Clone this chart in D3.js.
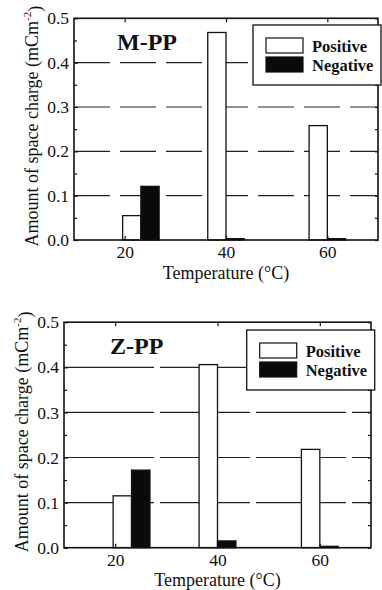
<!DOCTYPE html>
<html>
<head>
<meta charset="utf-8">
<script src="https://cdn.jsdelivr.net/npm/d3@7"></script>
<style>
    body { margin: 0; background: #fff; }
    svg { display: block; font-family: 'Liberation Serif', 'Times New Roman', serif; }
    .tick line { stroke: #111; stroke-width: 1.2; }
</style>
</head>
<body>
<div id="chart"></div>
<script>
//Datos
const TEMPERATURES = [20, 40, 60];
const BAR_SPLIT = [23.2, 40, 60];
const Y_TICKS = [0, 0.1, 0.2, 0.3, 0.4, 0.5];
const Y_MINOR = [0.05, 0.15, 0.25, 0.35, 0.45];
const SERIES = ['Positive', 'Negative'];

const MPP_POSITIVE = [0.055, 0.468, 0.258];
const MPP_NEGATIVE = [0.121, 0.003, 0.003];
const ZPP_POSITIVE = [0.115, 0.406, 0.218];
const ZPP_NEGATIVE = [0.172, 0.015, 0.003];

//Colores fijos
const COLOR_POSITIVE = '#ffffff',
COLOR_NEGATIVE = '#0a0a0a',
COLOR_LINE = '#111';

const SERIF = "'Liberation Serif', 'Times New Roman', serif";
const BAR_W = 3.6;

let svg = d3.select('#chart')
    .append('svg')
      .attr('width', 382)
      .attr('height', 590)
      .attr('font-family', SERIF);

//Limpia el eje que genera d3
function cleanAxis(g) {
    g.attr('font-family', SERIF).attr('font-size', 17.5);
    g.select('.domain').remove();
    g.selectAll('.tick text').attr('fill', COLOR_LINE).attr('font-family', SERIF);
}

function drawPanel(opts) {
    let g = svg.append('g');

    let x = d3.scaleLinear()
        .domain([10, 70])
        .range([opts.left, opts.right]);

    let y = d3.scaleLinear()
        .domain([0, 0.5])
        .range([opts.bottom, opts.top]);

    //Rejilla
    g.append('g')
        .selectAll('line')
        .data(Y_TICKS.slice(1, 5))
        .enter()
        .append('line')
        .attr('x1', opts.left)
        .attr('x2', opts.right)
        .attr('y1', function(d) { return y(d); })
        .attr('y2', function(d) { return y(d); })
        .attr('stroke', '#222')
        .attr('stroke-width', 1.2)
        .attr('stroke-dasharray', opts.dash);

    //Barras
    let rows = TEMPERATURES.map(function(t, i) {
        return { temp: t, split: BAR_SPLIT[i], pos: opts.positive[i], neg: opts.negative[i] };
    });

    g.append('g')
        .selectAll('rect')
        .data(rows)
        .enter()
        .append('rect')
        .attr('x', function(d) { return x(d.split - BAR_W); })
        .attr('y', function(d) { return y(d.pos); })
        .attr('width', function(d) { return x(d.split) - x(d.split - BAR_W); })
        .attr('height', function(d) { return y(0) - y(d.pos); })
        .attr('fill', COLOR_POSITIVE)
        .attr('stroke', COLOR_LINE)
        .attr('stroke-width', 1.3);

    g.append('g')
        .selectAll('rect')
        .data(rows)
        .enter()
        .append('rect')
        .attr('x', function(d) { return x(d.split); })
        .attr('y', function(d) { return y(d.neg); })
        .attr('width', function(d) { return x(d.split + BAR_W) - x(d.split); })
        .attr('height', function(d) { return y(0) - y(d.neg); })
        .attr('fill', COLOR_NEGATIVE)
        .attr('stroke', COLOR_LINE)
        .attr('stroke-width', 1.3);

    //Ejes
    g.append('g')
        .attr('transform', 'translate(' + opts.left + ',0)')
        .call(d3.axisLeft(y).tickValues(Y_TICKS).tickSize(-4).tickPadding(5).tickFormat(d3.format('.1f')))
        .call(cleanAxis);

    g.append('g')
        .attr('transform', 'translate(' + opts.left + ',0)')
        .call(d3.axisLeft(y).tickValues(Y_MINOR).tickSize(-3).tickFormat(''))
        .call(cleanAxis);

    g.append('g')
        .attr('transform', 'translate(' + opts.right + ',0)')
        .call(d3.axisRight(y).tickValues(Y_TICKS.concat(Y_MINOR)).tickSize(-3).tickFormat(''))
        .call(cleanAxis);

    g.append('g')
        .attr('transform', 'translate(0,' + opts.bottom + ')')
        .call(d3.axisBottom(x).tickValues(TEMPERATURES).tickSize(-4).tickPadding(6))
        .call(cleanAxis);

    g.append('g')
        .attr('transform', 'translate(0,' + opts.top + ')')
        .call(d3.axisTop(x).tickValues(TEMPERATURES).tickSize(-4).tickFormat(''))
        .call(cleanAxis);

    //Marco
    g.append('rect')
        .attr('x', opts.left)
        .attr('y', opts.top)
        .attr('width', opts.right - opts.left)
        .attr('height', opts.bottom - opts.top)
        .attr('fill', 'none')
        .attr('stroke', COLOR_LINE)
        .attr('stroke-width', 1.6);

    //Titulo del panel
    g.append('text')
        .attr('x', opts.left + opts.titleX)
        .attr('y', opts.top + 31.7)
        .attr('font-size', 24)
        .attr('font-weight', 'bold')
        .attr('fill', COLOR_LINE)
        .text(opts.title);

    //Leyenda
    let lx = opts.left + opts.legendX,
        ly = opts.top + opts.legendY;

    let legend = g.append('g')
        .attr('transform', 'translate(' + lx + ',' + ly + ')');

    legend.append('rect')
        .attr('width', 128)
        .attr('height', 60)
        .attr('fill', '#fff')
        .attr('stroke', COLOR_LINE)
        .attr('stroke-width', 1.3);

    let items = legend.selectAll('.item')
        .data(SERIES)
        .enter()
        .append('g')
        .attr('class', 'item')
        .attr('transform', function(d, i) { return 'translate(13,' + (13 + i * 19) + ')'; });

    items.append('rect')
        .attr('width', 37)
        .attr('height', 15)
        .attr('fill', function(d, i) { return i == 0 ? COLOR_POSITIVE : COLOR_NEGATIVE; })
        .attr('stroke', COLOR_LINE)
        .attr('stroke-width', 1.2);

    items.append('text')
        .attr('x', 46)
        .attr('y', 13.5)
        .attr('font-size', 16.5)
        .attr('font-weight', 'bold')
        .attr('fill', COLOR_LINE)
        .text(function(d) { return d; });

    //Titulos de ejes
    let yTitle = g.append('text')
        .attr('transform', 'translate(' + (opts.left - 36.5) + ',' + ((opts.top + opts.bottom) / 2 - 3) + ')rotate(-90)')
        .attr('text-anchor', 'middle')
        .attr('font-size', 18)
        .attr('fill', COLOR_LINE);

    yTitle.append('tspan').text('Amount of space charge (mCm');
    yTitle.append('tspan').attr('dy', '-0.55em').attr('font-size', 11).text('-2');
    yTitle.append('tspan').attr('dy', '0.55em').text(')');

    g.append('text')
        .attr('x', (opts.left + opts.right) / 2)
        .attr('y', opts.bottom + 38.5)
        .attr('text-anchor', 'middle')
        .attr('font-size', 18)
        .attr('fill', COLOR_LINE)
        .text('Temperature (°C)');
}

drawPanel({
    title: 'M-PP', positive: MPP_POSITIVE, negative: MPP_NEGATIVE,
    left: 74, right: 378, top: 18.3, bottom: 240,
    titleX: 43, legendX: 179, legendY: 6.7, dash: '36,10'
});

drawPanel({
    title: 'Z-PP', positive: ZPP_POSITIVE, negative: ZPP_NEGATIVE,
    left: 64, right: 371, top: 322.2, bottom: 547.7,
    titleX: 46, legendX: 182.7, legendY: 7.8, dash: '90,6'
});
</script>
</body>
</html>
